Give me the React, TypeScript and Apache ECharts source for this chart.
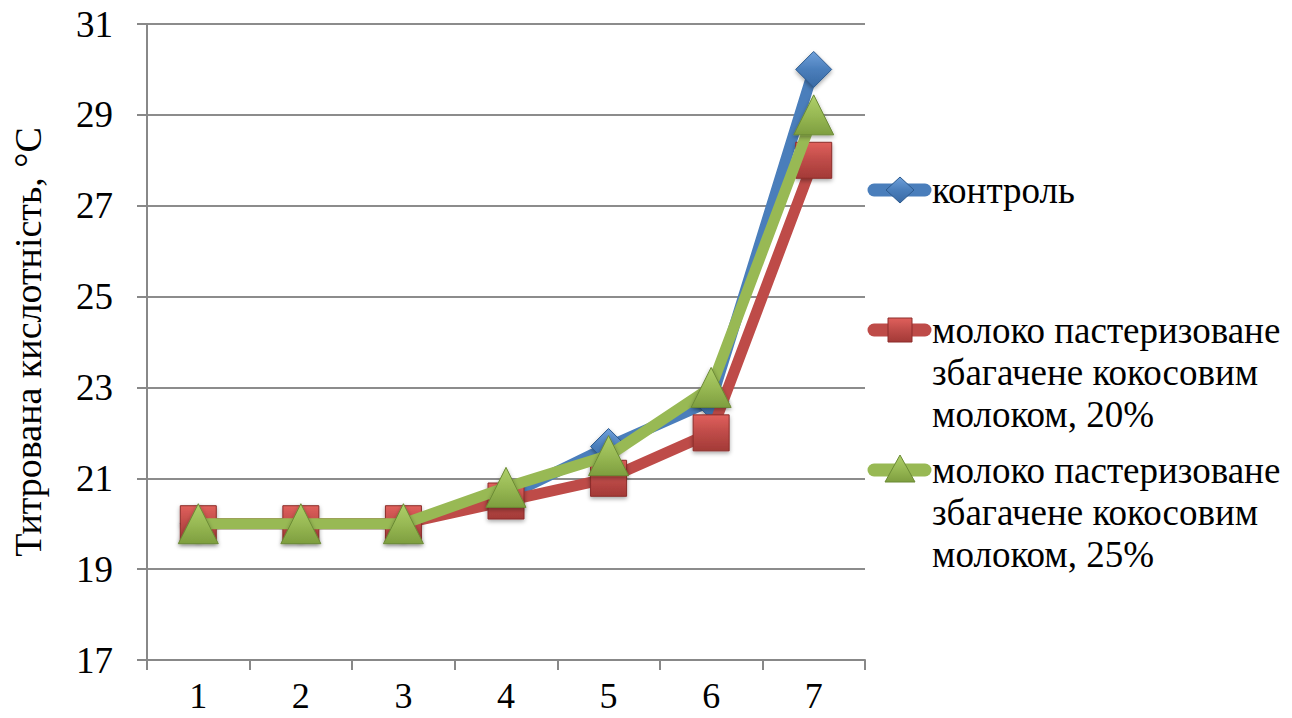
import React, { useEffect, useRef } from "react";
import * as echarts from "echarts";

const categories = ["1", "2", "3", "4", "5", "6", "7"];
const control = [20, 20, 20, 20.6, 21.7, 22.7, 30];
const milk20 = [20, 20, 20, 20.5, 21, 22, 28];
const milk25 = [20, 20, 20, 20.8, 21.5, 23, 29];
const seriesNames = [
  "контроль",
  "молоко пастеризоване\nзбагачене кокосовим\nмолоком, 20%",
  "молоко пастеризоване\nзбагачене кокосовим\nмолоком, 25%",
];
const yTitle = "Титрована кислотність, °С";

const FONT = "Liberation Serif, DejaVu Serif, serif";
const FS = 37;
const colors = ["#4A7EBB", "#BE4B48", "#98B954"];
const lights = ["#6FA0DA", "#E0605C", "#AFD06A"];
const darks = ["#3A6AA4", "#A33A37", "#7E9E3F"];
const borders = ["#2C5A8E", "#8C2D2A", "#6B8A35"];
const symbols = ["diamond", "rect", "triangle"];
const symbolSizes = [36, 36, 40];

function grad(i: number) {
  return new echarts.graphic.LinearGradient(0, 0, 0, 1, [
    { offset: 0, color: lights[i] },
    { offset: 0.5, color: colors[i] },
    { offset: 1, color: darks[i] },
  ]);
}

export default function App() {
  const ref = useRef<HTMLDivElement>(null);
  useEffect(() => {
    if (!ref.current) return;
    const chart = echarts.init(ref.current, undefined, { renderer: "svg" });
    const data = [control, milk20, milk25];

    const legendY = [190, 330, 470];
    const legendGraphics: any[] = [];
    legendY.forEach((y, i) => {
      legendGraphics.push({
        type: "line",
        shape: { x1: 874, y1: y, x2: 925, y2: y },
        style: { stroke: colors[i], lineWidth: 13, lineCap: "round" },
      });
      const cx = 900;
      if (i === 0) {
        legendGraphics.push({
          type: "polygon",
          shape: { points: [[cx, y - 13], [cx + 14, y], [cx, y + 13], [cx - 14, y]] },
          style: { fill: grad(0), stroke: borders[0], lineWidth: 1 },
        });
      } else if (i === 1) {
        legendGraphics.push({
          type: "rect",
          shape: { x: cx - 12, y: y - 12, width: 24, height: 24 },
          style: { fill: grad(1), stroke: borders[1], lineWidth: 1 },
        });
      } else {
        legendGraphics.push({
          type: "polygon",
          shape: { points: [[cx, y - 15], [cx + 15, y + 12], [cx - 15, y + 12]] },
          style: { fill: grad(2), stroke: borders[2], lineWidth: 1 },
        });
      }
      legendGraphics.push({
        type: "text",
        x: 932,
        y: y - 21,
        style: {
          text: seriesNames[i],
          fontFamily: FONT,
          fontSize: FS,
          fill: "#000",
          lineHeight: 42,
          verticalAlign: "top",
          align: "left",
        },
      });
    });

    chart.setOption({
      animation: false,
      textStyle: { fontFamily: FONT },
      grid: { left: 147, right: 427, top: 24, bottom: 58 },
      xAxis: {
        type: "category",
        data: categories,
        boundaryGap: true,
        axisLine: { lineStyle: { color: "#888", width: 2 } },
        axisTick: { show: true, length: 10, lineStyle: { color: "#888", width: 2 } },
        axisLabel: { fontFamily: FONT, fontSize: 36, color: "#000", margin: 18, lineHeight: 36 },
      },
      yAxis: {
        type: "value",
        min: 17,
        max: 31,
        interval: 2,
        name: yTitle,
        nameLocation: "middle",
        nameGap: 100,
        nameTextStyle: { fontFamily: FONT, fontSize: 38, color: "#000" },
        axisLine: { show: true, lineStyle: { color: "#888", width: 2 } },
        axisTick: { show: true, length: 10, lineStyle: { color: "#888", width: 2 } },
        axisLabel: { fontFamily: FONT, fontSize: FS, color: "#000", margin: 34 },
        splitLine: { show: true, lineStyle: { color: "#8c8c8c", width: 2 } },
      },
      series: data.map((d, i) => ({
        type: "line",
        name: seriesNames[i],
        data: d,
        symbol: symbols[i],
        symbolSize: symbolSizes[i],
        lineStyle: { color: colors[i], width: 11 },
        itemStyle: {
          color: grad(i),
          borderColor: borders[i],
          borderWidth: 1,
          shadowBlur: 4,
          shadowColor: "rgba(0,0,0,0.35)",
          shadowOffsetY: 2,
        },
        z: 2 + i,
      })),
      graphic: legendGraphics,
    });
    return () => chart.dispose();
  }, []);
  return <div ref={ref} style={{ width: 1292, height: 718, position: "absolute", left: 0, top: 0 }} />;
}
